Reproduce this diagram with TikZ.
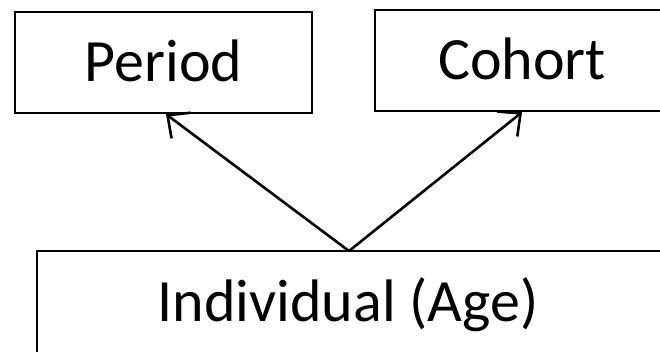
\documentclass[tikz,border=0pt]{standalone}
\usepackage{fontspec}
\setmainfont{Carlito}
\usetikzlibrary{arrows.meta}
\begin{document}
\begin{tikzpicture}[x=1pt,y=-1pt,
  box/.style={draw=black, line width=2.4pt, fill=white, inner sep=0pt,
    text height=38pt, text depth=0pt, font=\fontsize{60}{72}\selectfont},
  conn/.style={line width=2.6pt, -{Straight Barb[length=17pt,width=32pt,line width=2.6pt]}}]
\useasboundingbox (0,0) rectangle (660,351);
\clip (0,0) rectangle (660,351);
\fill[white] (0,0) rectangle (660,351);
\node[box, minimum width=297pt, minimum height=101pt] (period) at (163.5,62.5) {Period};
\node[box, minimum width=306pt, minimum height=101pt] (cohort) at (528,60.5) {Cohort\hspace*{12pt}};
\node[box, minimum width=640pt, minimum height=103pt] (indiv) at (357,302.5) {Individual (Age)\hspace*{18pt}};
\coordinate (split) at (349,251);
\draw[conn] (split) -- ([xshift=2.5pt]period.south);
\draw[conn] (split) -- ([xshift=-6pt]cohort.south);
\end{tikzpicture}
\end{document}
